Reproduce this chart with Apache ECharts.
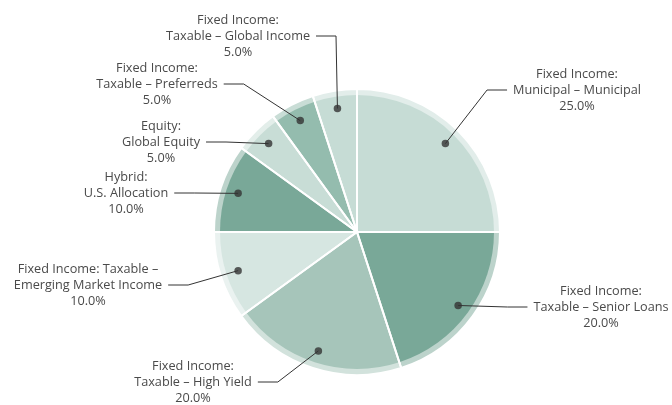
<!DOCTYPE html>
<html>
<head>
<meta charset="utf-8">
<script src="https://cdn.jsdelivr.net/npm/echarts@6/dist/echarts.min.js"></script>
<style>
  html, body { margin: 0; padding: 0; background: #fff; }
  #chart { width: 672px; height: 405px; }
</style>
</head>
<body>
<div id="chart"></div>
<script>
const names = [
  'Fixed Income:\nMunicipal – Municipal',
  'Fixed Income:\nTaxable – Senior Loans',
  'Fixed Income:\nTaxable – High Yield',
  'Fixed Income: Taxable –\nEmerging Market Income',
  'Hybrid:\nU.S. Allocation',
  'Equity:\nGlobal Equity',
  'Fixed Income:\nTaxable – Preferreds',
  'Fixed Income:\nTaxable – Global Income'
]
const shares = [25, 20, 20, 10, 10, 5, 5, 5]

// slice colours, same order as names
const colors = ['#c6dcd5', '#79a898', '#a6c5ba', '#d6e6e1', '#79a898', '#c8ddd6', '#94bcae', '#c6dcd5']
// label block centres (layout only)
const labelPos = [[577, 90], [601, 307], [193, 382], [88, 285], [126, 193], [161, 142], [157, 84], [238, 36]]

const center = [357, 232]
const pieData = names.map((n, i) => ({ name: n, value: shares[i], itemStyle: { color: colors[i] } }))

// midpoints of each slice in percent, for the polar dots
let acc = 0
const dotData = shares.map(v => { const m = acc + v / 2; acc += v; return [1, m] })

const chart = echarts.init(document.getElementById('chart'))
chart.setOption({
  backgroundColor: '#fff',
  animation: false,
  polar: { center: center, radius: 125 },
  angleAxis: { type: 'value', min: 0, max: 100, startAngle: 90, show: false },
  radiusAxis: { type: 'value', min: 0, max: 1, show: false },
  series: [
    // pale outer ring
    {
      type: 'pie', center: center, radius: 143, silent: true, z: 1,
      data: pieData.map(d => ({ ...d, itemStyle: { color: d.itemStyle.color, opacity: 0.5 } })),
      itemStyle: { borderWidth: 0 },
      label: { show: false }, labelLine: { show: false }
    },
    {
      type: 'pie', center: center, radius: 137, silent: true, z: 2,
      data: pieData,
      itemStyle: { borderWidth: 0 },
      label: { show: false }, labelLine: { show: false }
    },
    // white separators across slice and ring
    {
      type: 'pie', center: center, radius: 143, silent: true, z: 3,
      data: shares.map(v => ({ value: v })),
      itemStyle: { color: 'rgba(0,0,0,0)', borderColor: '#fff', borderWidth: 2 },
      label: { show: false }, labelLine: { show: false }
    },
    {
      type: 'pie', center: center, radius: 125, silent: true, z: 4,
      avoidLabelOverlap: false,
      data: names.map((n, i) => ({ name: n, value: shares[i] })),
      itemStyle: { color: 'rgba(0,0,0,0)', borderWidth: 0 },
      label: {
        show: true, position: 'outside',
        formatter: p => p.name + '\n' + p.value.toFixed(1) + '%',
        fontFamily: 'Open Sans', fontSize: 12.7, lineHeight: 16, color: '#4a4a4a',
        padding: [0, 6]
      },
      labelLine: { show: true, length: 10, length2: 20, smooth: false, lineStyle: { color: '#333', width: 1 } },
      labelLayout: p => ({
        x: labelPos[p.dataIndex][0], y: labelPos[p.dataIndex][1],
        align: 'center', verticalAlign: 'middle'
      })
    },
    {
      type: 'scatter', coordinateSystem: 'polar', silent: true, z: 5,
      symbol: 'circle', symbolSize: 7.5,
      itemStyle: { color: '#333' },
      data: dotData
    }
  ]
})
</script>
</body>
</html>
